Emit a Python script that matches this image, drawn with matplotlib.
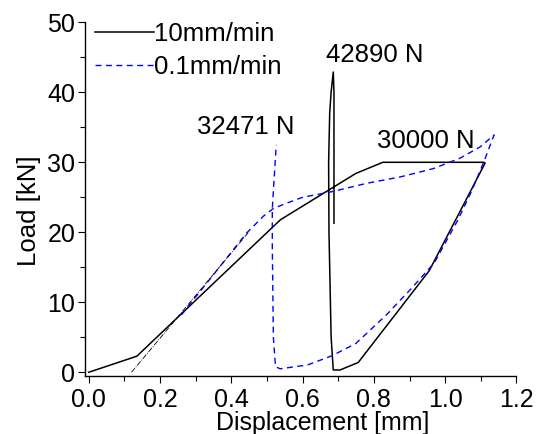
import matplotlib
matplotlib.use("Agg")
import matplotlib.pyplot as plt
from matplotlib.ticker import MultipleLocator, FormatStrFormatter

plt.rcParams['font.family'] = ['Liberation Sans', 'DejaVu Sans']

# 10 mm/min curve (displacement mm, load kN)
fast_x = [0.0, 0.135, 0.538, 0.749, 0.825, 1.108, 1.112, 1.051, 0.955, 0.756, 0.705, 0.686,
          0.680, 0.674, 0.673, 0.676, 0.680, 0.686, 0.688, 0.688, 0.688]
fast_y = [0.0, 2.3, 21.8, 28.4, 30.0, 30.0, 29.9, 23.9, 14.5, 1.4, 0.33, 0.33,
          5.0, 20.0, 30.0, 37.0, 40.0, 42.9, 40.0, 30.0, 21.3]

# 0.1 mm/min curve
slow_x = [0.26, 0.443, 0.49, 0.518, 0.552, 0.600, 0.682, 0.780, 0.873, 0.967, 1.042, 1.098, 1.137,
          1.108, 1.075, 1.036, 0.969, 0.902, 0.835, 0.749, 0.681, 0.614, 0.537, 0.524,
          0.518, 0.515, 0.515, 0.526]
slow_y = [8.2, 19.9, 22.3, 23.4, 24.1, 25.0, 25.8, 27.0, 27.9, 29.1, 30.6, 32.2, 33.9,
          30.0, 26.0, 21.8, 15.6, 11.8, 8.2, 4.1, 2.33, 1.05, 0.5, 0.8,
          5.0, 17.9, 23.4, 32.5]

# linear fit line (dash-dot)
fit_x = [0.12, 0.45]
fit_y = [0.0, 20.1]

labels = ['10mm/min', '0.1mm/min']
annotations = [('42890 N', 0.803, 45.4), ('32471 N', 0.440, 35.1), ('30000 N', 0.945, 33.1)]

FS = 18.5
TFS = 18
fig = plt.figure(figsize=(5.36, 4.34), dpi=100)
ax = fig.add_axes([0.1586, 0.1343, 0.9636 - 0.1586, 0.9486 - 0.1343])

ax.plot(fast_x, fast_y, color='black', lw=1.1, label=labels[0])
ax.plot(slow_x, slow_y, color='#0000ff', lw=1.0, dashes=(4.3, 3.2), label=labels[1])
ax.plot(fit_x, fit_y, color='black', lw=0.6, ls='-.')

for txt, x, y in annotations:
    ax.text(x, y, txt, fontsize=FS, ha='center', va='center')

ax.set_xlim(-0.0104, 1.2)
ax.set_ylim(-0.49, 50)
ax.xaxis.set_major_locator(MultipleLocator(0.2))
ax.xaxis.set_minor_locator(MultipleLocator(0.1))
ax.xaxis.set_major_formatter(FormatStrFormatter('%.1f'))
ax.yaxis.set_major_locator(MultipleLocator(10))
ax.yaxis.set_minor_locator(MultipleLocator(5))
ax.tick_params(which='both', direction='out', width=0.8, labelsize=TFS)
ax.tick_params(which='major', length=5)
ax.tick_params(which='minor', length=3.5)
ax.tick_params(axis='x', pad=4)
ax.tick_params(axis='y', pad=2)
for s in ['top', 'right']:
    ax.spines[s].set_visible(False)
for s in ['left', 'bottom']:
    ax.spines[s].set_linewidth(1.0)

ax.set_xlabel('Displacement [mm]', fontsize=TFS)
ax.set_ylabel('Load [kN]', fontsize=FS)
ax.xaxis.set_label_coords(0.5516, -0.101)
ax.yaxis.set_label_coords(-0.101, 0.466)

leg = ax.legend(loc='upper left', bbox_to_anchor=(0.022, 1.0), frameon=False, fontsize=FS,
                handlelength=2.3, handletextpad=0.0, labelspacing=0.33, borderpad=0.0,
                borderaxespad=0.0)

fig.savefig('out.png', dpi=100)
